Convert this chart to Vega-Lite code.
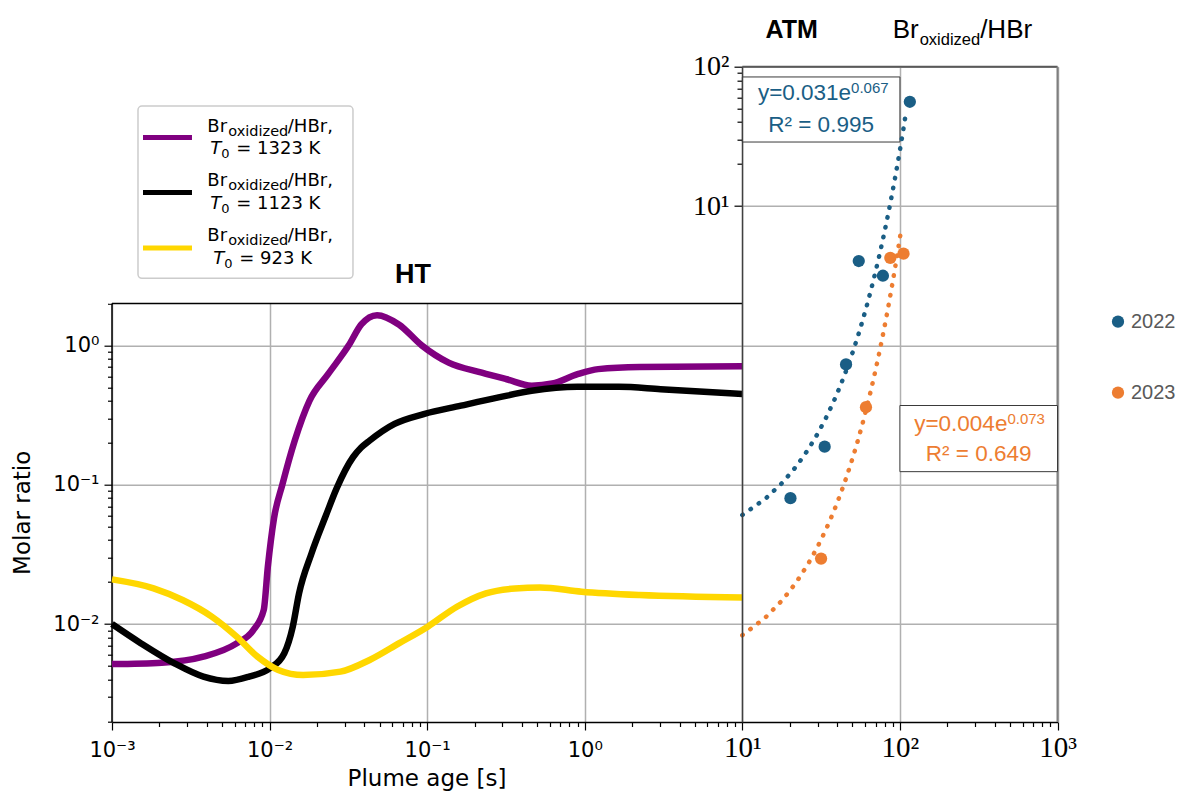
{
  "$schema": "https://vega.github.io/schema/vega-lite/v6.json",
  "width": 945.5,
  "height": 655.3,
  "autosize": {"type": "none"},
  "padding": {"left": 112, "top": 66.7, "right": 119.5, "bottom": 70},
  "background": "white",
  "config": {"view": {"stroke": null}},
  "datasets": {
    "ht": [
      {"series": "1323 K", "t": 0.001, "ratio": 0.00516},
      {"series": "1323 K", "t": 0.00207, "ratio": 0.00528},
      {"series": "1323 K", "t": 0.0038, "ratio": 0.00583},
      {"series": "1323 K", "t": 0.00618, "ratio": 0.00726},
      {"series": "1323 K", "t": 0.00789, "ratio": 0.00906},
      {"series": "1323 K", "t": 0.00918, "ratio": 0.0126},
      {"series": "1323 K", "t": 0.00975, "ratio": 0.0258},
      {"series": "1323 K", "t": 0.01067, "ratio": 0.0575},
      {"series": "1323 K", "t": 0.01205, "ratio": 0.1},
      {"series": "1323 K", "t": 0.01445, "ratio": 0.2075},
      {"series": "1323 K", "t": 0.0179, "ratio": 0.4},
      {"series": "1323 K", "t": 0.0235, "ratio": 0.621},
      {"series": "1323 K", "t": 0.0318, "ratio": 1.0},
      {"series": "1323 K", "t": 0.0382, "ratio": 1.413},
      {"series": "1323 K", "t": 0.0481, "ratio": 1.648},
      {"series": "1323 K", "t": 0.0661, "ratio": 1.413},
      {"series": "1323 K", "t": 0.0923, "ratio": 1.0},
      {"series": "1323 K", "t": 0.1368, "ratio": 0.752},
      {"series": "1323 K", "t": 0.2223, "ratio": 0.638},
      {"series": "1323 K", "t": 0.32, "ratio": 0.571},
      {"series": "1323 K", "t": 0.461, "ratio": 0.513},
      {"series": "1323 K", "t": 0.624, "ratio": 0.532},
      {"series": "1323 K", "t": 0.9, "ratio": 0.621},
      {"series": "1323 K", "t": 1.216, "ratio": 0.675},
      {"series": "1323 K", "t": 2.234, "ratio": 0.7},
      {"series": "1323 K", "t": 10, "ratio": 0.708},
      {"series": "1123 K", "t": 0.001, "ratio": 0.01},
      {"series": "1123 K", "t": 0.00153, "ratio": 0.00726},
      {"series": "1123 K", "t": 0.00249, "ratio": 0.00522},
      {"series": "1123 K", "t": 0.0038, "ratio": 0.00419},
      {"series": "1123 K", "t": 0.00547, "ratio": 0.0039},
      {"series": "1123 K", "t": 0.00741, "ratio": 0.00419},
      {"series": "1123 K", "t": 0.01005, "ratio": 0.00481},
      {"series": "1123 K", "t": 0.0124, "ratio": 0.00617},
      {"series": "1123 K", "t": 0.01403, "ratio": 0.00957},
      {"series": "1123 K", "t": 0.01538, "ratio": 0.0166},
      {"series": "1123 K", "t": 0.01845, "ratio": 0.0321},
      {"series": "1123 K", "t": 0.0228, "ratio": 0.0603},
      {"series": "1123 K", "t": 0.02655, "ratio": 0.0933},
      {"series": "1123 K", "t": 0.0339, "ratio": 0.158},
      {"series": "1123 K", "t": 0.038, "ratio": 0.184},
      {"series": "1123 K", "t": 0.0432, "ratio": 0.2075},
      {"series": "1123 K", "t": 0.0621, "ratio": 0.273},
      {"series": "1123 K", "t": 0.0951, "ratio": 0.321},
      {"series": "1123 K", "t": 0.164, "ratio": 0.369},
      {"series": "1123 K", "t": 0.284, "ratio": 0.423},
      {"series": "1123 K", "t": 0.46, "ratio": 0.472},
      {"series": "1123 K", "t": 0.9, "ratio": 0.504},
      {"series": "1123 K", "t": 1.648, "ratio": 0.504},
      {"series": "1123 K", "t": 3.03, "ratio": 0.485},
      {"series": "1123 K", "t": 10, "ratio": 0.447},
      {"series": "923 K", "t": 0.001, "ratio": 0.0209},
      {"series": "923 K", "t": 0.001837, "ratio": 0.01803},
      {"series": "923 K", "t": 0.002805, "ratio": 0.01486},
      {"series": "923 K", "t": 0.004295, "ratio": 0.0113},
      {"series": "923 K", "t": 0.00618, "ratio": 0.00811},
      {"series": "923 K", "t": 0.00838, "ratio": 0.00583},
      {"series": "923 K", "t": 0.01135, "ratio": 0.00468},
      {"series": "923 K", "t": 0.01633, "ratio": 0.0043},
      {"series": "923 K", "t": 0.02818, "ratio": 0.00455},
      {"series": "923 K", "t": 0.04315, "ratio": 0.00552},
      {"series": "923 K", "t": 0.0661, "ratio": 0.00726},
      {"series": "923 K", "t": 0.1009, "ratio": 0.00957},
      {"series": "923 K", "t": 0.1545, "ratio": 0.0133},
      {"series": "923 K", "t": 0.236, "ratio": 0.0166},
      {"series": "923 K", "t": 0.3614, "ratio": 0.018},
      {"series": "923 K", "t": 0.52, "ratio": 0.0183},
      {"series": "923 K", "t": 0.955, "ratio": 0.01706},
      {"series": "923 K", "t": 2.234, "ratio": 0.01614},
      {"series": "923 K", "t": 10, "ratio": 0.01552}
    ],
    "atm": [
      {"year": "2022", "age": 20.2, "ratio": 0.08},
      {"year": "2022", "age": 33.3, "ratio": 0.1875},
      {"year": "2022", "age": 45.5, "ratio": 0.73},
      {"year": "2022", "age": 54.8, "ratio": 4.03},
      {"year": "2022", "age": 78, "ratio": 3.16},
      {"year": "2022", "age": 115.6, "ratio": 56},
      {"year": "2023", "age": 31.6, "ratio": 0.0295},
      {"year": "2023", "age": 60.9, "ratio": 0.36},
      {"year": "2023", "age": 86.9, "ratio": 4.24},
      {"year": "2023", "age": 105.4, "ratio": 4.55}
    ],
    "trend": [
      {"year": "2022", "age": 10, "ratio": 0.06058},
      {"year": "2022", "age": 14, "ratio": 0.0792},
      {"year": "2022", "age": 18, "ratio": 0.10354},
      {"year": "2022", "age": 22, "ratio": 0.13537},
      {"year": "2022", "age": 26, "ratio": 0.17697},
      {"year": "2022", "age": 30, "ratio": 0.23136},
      {"year": "2022", "age": 34, "ratio": 0.30247},
      {"year": "2022", "age": 38, "ratio": 0.39543},
      {"year": "2022", "age": 42, "ratio": 0.51696},
      {"year": "2022", "age": 46, "ratio": 0.67584},
      {"year": "2022", "age": 50, "ratio": 0.88358},
      {"year": "2022", "age": 54, "ratio": 1.1551},
      {"year": "2022", "age": 58, "ratio": 1.5101},
      {"year": "2022", "age": 62, "ratio": 1.9742},
      {"year": "2022", "age": 66, "ratio": 2.581},
      {"year": "2022", "age": 70, "ratio": 3.3743},
      {"year": "2022", "age": 74, "ratio": 4.4113},
      {"year": "2022", "age": 78, "ratio": 5.767},
      {"year": "2022", "age": 82, "ratio": 7.5395},
      {"year": "2022", "age": 86, "ratio": 9.8567},
      {"year": "2022", "age": 90, "ratio": 12.887},
      {"year": "2022", "age": 94, "ratio": 16.846},
      {"year": "2022", "age": 98, "ratio": 22.026},
      {"year": "2022", "age": 102, "ratio": 28.793},
      {"year": "2022", "age": 106, "ratio": 37.643},
      {"year": "2022", "age": 110, "ratio": 49.213},
      {"year": "2023", "age": 10, "ratio": 0.0083},
      {"year": "2023", "age": 14, "ratio": 0.011115},
      {"year": "2023", "age": 18, "ratio": 0.014884},
      {"year": "2023", "age": 22, "ratio": 0.019932},
      {"year": "2023", "age": 26, "ratio": 0.02669},
      {"year": "2023", "age": 30, "ratio": 0.035741},
      {"year": "2023", "age": 34, "ratio": 0.04786},
      {"year": "2023", "age": 38, "ratio": 0.064092},
      {"year": "2023", "age": 42, "ratio": 0.085824},
      {"year": "2023", "age": 46, "ratio": 0.11493},
      {"year": "2023", "age": 50, "ratio": 0.1539},
      {"year": "2023", "age": 54, "ratio": 0.20609},
      {"year": "2023", "age": 58, "ratio": 0.27596},
      {"year": "2023", "age": 62, "ratio": 0.36956},
      {"year": "2023", "age": 66, "ratio": 0.49488},
      {"year": "2023", "age": 70, "ratio": 0.66268},
      {"year": "2023", "age": 74, "ratio": 0.8874},
      {"year": "2023", "age": 78, "ratio": 1.1883},
      {"year": "2023", "age": 82, "ratio": 1.5913},
      {"year": "2023", "age": 86, "ratio": 2.1308},
      {"year": "2023", "age": 90, "ratio": 2.8536},
      {"year": "2023", "age": 94, "ratio": 3.8212},
      {"year": "2023", "age": 98, "ratio": 5.1168},
      {"year": "2023", "age": 101, "ratio": 6.369}
    ]
  },
  "resolve": {"axis": {"x": "independent", "y": "independent"}, "scale": {"color": "independent"}},
  "layer": [
    {
      "data": {"values": [{}]},
      "mark": {"type": "rect", "fill": "white"},
      "encoding": {
        "x": {"datum": 0.00095, "type": "quantitative", "scale": {"type": "log", "domain": [0.001, 1000], "nice": false},
          "axis": {
            "orient": "bottom",
            "values": [0.001,0.002,0.003,0.004,0.005,0.006,0.007,0.008,0.009,0.01,0.02,0.03,0.04,0.05,0.06,0.07,0.08,0.09,0.1,0.2,0.3,0.4,0.5,0.6,0.7,0.8,0.9,1,2,3,4,5,6,7,8,9,10,20,30,40,50,60,70,80,90,100,200,300,400,500,600,700,800,900,1000],
            "labelExpr": "abs(log(datum.value)/LN10 - round(log(datum.value)/LN10)) > 0.001 ? '' : round(log(datum.value)/LN10) == -3 ? '10⁻³' : round(log(datum.value)/LN10) == -2 ? '10⁻²' : round(log(datum.value)/LN10) == -1 ? '10⁻¹' : round(log(datum.value)/LN10) == 0 ? '10⁰' : round(log(datum.value)/LN10) == 1 ? '10¹' : round(log(datum.value)/LN10) == 2 ? '10²' : '10³'",
            "grid": true,
            "gridColor": "#b0b0b0",
            "gridWidth": 1.5,
            "gridOpacity": {"condition": {"test": "abs(log(datum.value)/LN10 - round(log(datum.value)/LN10)) < 0.001", "value": 1}, "value": 0},
            "tickColor": "#000000",
            "tickWidth": 1.2,
            "tickSize": {"condition": {"test": "abs(log(datum.value)/LN10 - round(log(datum.value)/LN10)) < 0.001", "value": 8}, "value": 4.5},
            "domainColor": "#000000",
            "domainWidth": 1.5,
            "labelFont": {"condition": {"test": "datum.value >= 9", "value": "Liberation Serif"}, "value": "DejaVu Sans"},
            "labelFontSize": {"condition": {"test": "datum.value >= 9", "value": 29}, "value": 21},
            "labelColor": "#000000",
            "labelBaseline": "alphabetic",
            "labelPadding": 26,
            "labelOverlap": false,
            "labelFlush": false,
            "labelBound": false,
            "title": "Plume age [s]",
            "titleFont": "DejaVu Sans",
            "titleFontSize": 23,
            "titleFontWeight": "normal",
            "titleColor": "#000000",
            "titleX": 314.5,
            "titleY": 63,
            "titleAlign": "center",
            "titleBaseline": "alphabetic"
          }},
        "x2": {"datum": 10},
        "y": {"datum": 2, "type": "quantitative", "scale": {"type": "log", "domain": [0.00198, 100], "nice": false},
          "axis": {"orient": "left", "values": [0.01, 0.1, 1, 10, 100], "grid": true, "gridColor": "#b0b0b0", "gridWidth": 1.5, "ticks": false, "labels": false, "domain": false, "title": null}},
        "y2": {"datum": 110}
      }
    },
    {
      "data": {"values": [{}]},
      "mark": {"type": "rule", "stroke": "#000000", "strokeWidth": 1.5},
      "encoding": {
        "x": {"datum": 0.001, "type": "quantitative", "scale": {"type": "log", "domain": [0.001, 1000], "nice": false}, "axis": null},
        "y": {"datum": 0.00198, "type": "quantitative", "scale": {"type": "log", "domain": [0.00198, 100], "nice": false}, "axis": null},
        "y2": {"datum": 2}
      }
    },
    {
      "data": {"values": [{}]},
      "mark": {"type": "rule", "stroke": "#000000", "strokeWidth": 1.5},
      "encoding": {
        "x": {"datum": 0.001, "type": "quantitative", "scale": {"type": "log", "domain": [0.001, 1000], "nice": false}, "axis": null},
        "x2": {"datum": 10},
        "y": {"datum": 2, "type": "quantitative", "scale": {"type": "log", "domain": [0.00198, 100], "nice": false}, "axis": null}
      }
    },
    {
      "data": {"values": [{}]},
      "mark": {"type": "rule", "stroke": "#595959", "strokeWidth": 2},
      "encoding": {
        "x": {"datum": 10, "type": "quantitative", "scale": {"type": "log", "domain": [0.001, 1000], "nice": false}, "axis": null},
        "x2": {"datum": 1000},
        "y": {"datum": 100, "type": "quantitative", "scale": {"type": "log", "domain": [0.00198, 100], "nice": false}, "axis": null}
      }
    },
    {
      "data": {"values": [{}]},
      "mark": {"type": "rule", "stroke": "#7f7f7f", "strokeWidth": 2},
      "encoding": {
        "x": {"datum": 1000, "type": "quantitative", "scale": {"type": "log", "domain": [0.001, 1000], "nice": false}, "axis": null},
        "y": {"datum": 0.00198, "type": "quantitative", "scale": {"type": "log", "domain": [0.00198, 100], "nice": false}, "axis": null},
        "y2": {"datum": 100}
      }
    },
    {
      "data": {"name": "ht"},
      "mark": {"type": "line", "strokeWidth": 6.5, "interpolate": "monotone"},
      "encoding": {
        "x": {"field": "t", "type": "quantitative", "scale": {"type": "log", "domain": [0.001, 1000], "nice": false}, "axis": null},
        "y": {"field": "ratio", "type": "quantitative", "scale": {"type": "log", "domain": [0.00198, 100], "nice": false},
          "axis": {
            "orient": "left",
            "values": [0.002,0.003,0.004,0.005,0.006,0.007,0.008,0.009,0.01,0.02,0.03,0.04,0.05,0.06,0.07,0.08,0.09,0.1,0.2,0.3,0.4,0.5,0.6,0.7,0.8,0.9,1,2],
            "labelExpr": "datum.value == 0.01 ? '10⁻²' : datum.value == 0.1 ? '10⁻¹' : datum.value == 1 ? '10⁰' : ''",
            "grid": false,
            "domain": false,
            "labelFont": "DejaVu Sans",
            "labelFontSize": 21,
            "labelColor": "#000000",
            "labelPadding": 5,
            "labelOverlap": false,
            "labelFlush": false,
            "labelBound": false,
            "tickColor": "#000000",
            "tickWidth": 1.2,
            "tickSize": {"condition": {"test": "datum.value == 0.01 || datum.value == 0.1 || datum.value == 1", "value": 8}, "value": 4.5},
            "title": "Molar ratio",
            "titleFont": "DejaVu Sans",
            "titleFontSize": 23,
            "titleFontWeight": "normal",
            "titleColor": "#000000",
            "titleAngle": 270,
            "titleX": -89.5,
            "titleY": 445.6,
            "titleAlign": "center",
            "titleBaseline": "middle"
          }},
        "color": {"field": "series", "type": "nominal", "scale": {"domain": ["1323 K", "1123 K", "923 K"], "range": ["#800080", "#000000", "#ffd700"]}, "legend": null}
      }
    },
    {
      "data": {"values": [{}]},
      "mark": {"type": "rect", "fill": "white", "stroke": "#3a3a3a", "strokeWidth": 1},
      "encoding": {
        "x": {"datum": 10, "type": "quantitative", "scale": {"type": "log", "domain": [0.001, 1000], "nice": false}, "axis": null},
        "x2": {"datum": 100},
        "y": {"datum": 28.8, "type": "quantitative", "scale": {"type": "log", "domain": [0.00198, 100], "nice": false}, "axis": null},
        "y2": {"datum": 84.4}
      }
    },
    {
      "data": {"values": [{}]},
      "mark": {"type": "text", "text": "y=0.031e", "align": "right", "baseline": "alphabetic", "font": "Liberation Sans", "fontSize": 22.5, "color": "#1a5e85"},
      "encoding": {
        "x": {"datum": 49.0, "type": "quantitative", "scale": {"type": "log", "domain": [0.001, 1000], "nice": false}, "axis": null},
        "y": {"datum": 57.7, "type": "quantitative", "scale": {"type": "log", "domain": [0.00198, 100], "nice": false}, "axis": null}
      }
    },
    {
      "data": {"values": [{}]},
      "mark": {"type": "text", "text": "0.067", "align": "left", "baseline": "alphabetic", "dy": -7, "font": "Liberation Sans", "fontSize": 15, "color": "#1a5e85"},
      "encoding": {
        "x": {"datum": 49.0, "type": "quantitative", "scale": {"type": "log", "domain": [0.001, 1000], "nice": false}, "axis": null},
        "y": {"datum": 57.7, "type": "quantitative", "scale": {"type": "log", "domain": [0.00198, 100], "nice": false}, "axis": null}
      }
    },
    {
      "data": {"values": [{}]},
      "mark": {"type": "text", "text": "R² = 0.995", "align": "center", "baseline": "alphabetic", "font": "Liberation Sans", "fontSize": 22.5, "color": "#1a5e85"},
      "encoding": {
        "x": {"datum": 31.6, "type": "quantitative", "scale": {"type": "log", "domain": [0.001, 1000], "nice": false}, "axis": null},
        "y": {"datum": 34.1, "type": "quantitative", "scale": {"type": "log", "domain": [0.00198, 100], "nice": false}, "axis": null}
      }
    },
    {
      "data": {"values": [{}]},
      "mark": {"type": "rect", "fill": "white", "stroke": "#3a3a3a", "strokeWidth": 1},
      "encoding": {
        "x": {"datum": 100, "type": "quantitative", "scale": {"type": "log", "domain": [0.001, 1000], "nice": false}, "axis": null},
        "x2": {"datum": 1000},
        "y": {"datum": 0.124, "type": "quantitative", "scale": {"type": "log", "domain": [0.00198, 100], "nice": false}, "axis": null},
        "y2": {"datum": 0.37}
      }
    },
    {
      "data": {"values": [{}]},
      "mark": {"type": "text", "text": "y=0.004e", "align": "right", "baseline": "alphabetic", "font": "Liberation Sans", "fontSize": 22.5, "color": "#ed7d31"},
      "encoding": {
        "x": {"datum": 481, "type": "quantitative", "scale": {"type": "log", "domain": [0.001, 1000], "nice": false}, "axis": null},
        "y": {"datum": 0.2443, "type": "quantitative", "scale": {"type": "log", "domain": [0.00198, 100], "nice": false}, "axis": null}
      }
    },
    {
      "data": {"values": [{}]},
      "mark": {"type": "text", "text": "0.073", "align": "left", "baseline": "alphabetic", "dy": -7, "font": "Liberation Sans", "fontSize": 15, "color": "#ed7d31"},
      "encoding": {
        "x": {"datum": 481, "type": "quantitative", "scale": {"type": "log", "domain": [0.001, 1000], "nice": false}, "axis": null},
        "y": {"datum": 0.2443, "type": "quantitative", "scale": {"type": "log", "domain": [0.00198, 100], "nice": false}, "axis": null}
      }
    },
    {
      "data": {"values": [{}]},
      "mark": {"type": "text", "text": "R² = 0.649", "align": "center", "baseline": "alphabetic", "font": "Liberation Sans", "fontSize": 22.5, "color": "#ed7d31"},
      "encoding": {
        "x": {"datum": 316, "type": "quantitative", "scale": {"type": "log", "domain": [0.001, 1000], "nice": false}, "axis": null},
        "y": {"datum": 0.1488, "type": "quantitative", "scale": {"type": "log", "domain": [0.00198, 100], "nice": false}, "axis": null}
      }
    },
    {
      "data": {"name": "trend"},
      "mark": {"type": "line", "strokeWidth": 4.5, "strokeDash": [0.5, 9.5], "strokeCap": "round"},
      "encoding": {
        "x": {"field": "age", "type": "quantitative", "scale": {"type": "log", "domain": [0.001, 1000], "nice": false}, "axis": null},
        "y": {"field": "ratio", "type": "quantitative", "scale": {"type": "log", "domain": [0.00198, 100], "nice": false}, "axis": null},
        "color": {"field": "year", "type": "nominal", "scale": {"domain": ["2022", "2023"], "range": ["#1a5e85", "#ed7d31"]}, "legend": null}
      }
    },
    {
      "data": {"name": "atm"},
      "mark": {"type": "point", "filled": true, "size": 150, "opacity": 1},
      "encoding": {
        "x": {"field": "age", "type": "quantitative", "scale": {"type": "log", "domain": [0.001, 1000], "nice": false}, "axis": null},
        "y": {"field": "ratio", "type": "quantitative", "scale": {"type": "log", "domain": [0.00198, 100], "nice": false},
          "axis": {
            "orient": "left",
            "offset": -630,
            "values": [10, 20, 30, 40, 50, 60, 70, 80, 90, 100],
            "labelExpr": "datum.value == 10 ? '10¹' : datum.value == 100 ? '10²' : ''",
            "grid": false,
            "domain": true,
            "domainColor": "#404040",
            "domainWidth": 1.5,
            "labelFont": "Liberation Serif",
            "labelFontSize": 28,
            "labelColor": "#000000",
            "labelPadding": 5,
            "labelOverlap": false,
            "labelFlush": false,
            "labelBound": false,
            "tickColor": "#000000",
            "tickWidth": 1.2,
            "tickSize": {"condition": {"test": "datum.value == 10 || datum.value == 100", "value": 8}, "value": 5},
            "title": null,
            "zindex": 1
          }},
        "color": {"field": "year", "type": "nominal", "scale": {"domain": ["2022", "2023"], "range": ["#1a5e85", "#ed7d31"]},
          "legend": {"orient": "none", "legendX": 996, "legendY": 245, "title": null, "direction": "vertical", "labelFont": "Liberation Sans", "labelFontSize": 20, "labelColor": "#595959", "symbolSize": 150, "symbolType": "circle", "symbolStrokeWidth": 0, "rowPadding": 51, "labelOffset": 3, "padding": 0}}
      }
    },
    {
      "data": {"values": [{}]},
      "mark": {"type": "rect", "fill": "white", "stroke": "#cccccc", "strokeWidth": 1.5, "cornerRadius": 4},
      "encoding": {
        "x": {"datum": 0.001462, "type": "quantitative", "scale": {"type": "log", "domain": [0.001, 1000], "nice": false}, "axis": null},
        "x2": {"datum": 0.03382},
        "y": {"datum": 3.027, "type": "quantitative", "scale": {"type": "log", "domain": [0.00198, 100], "nice": false}, "axis": null},
        "y2": {"datum": 52.2}
      }
    },
    {
      "data": {"values": [{}]},
      "mark": {"type": "rule", "stroke": "#800080", "strokeWidth": 5},
      "encoding": {
        "x": {"datum": 0.001573, "type": "quantitative", "scale": {"type": "log", "domain": [0.001, 1000], "nice": false}, "axis": null},
        "x2": {"datum": 0.003218},
        "y": {"datum": 31.08, "type": "quantitative", "scale": {"type": "log", "domain": [0.00198, 100], "nice": false}, "axis": null}
      }
    },
    {
      "data": {"values": [{}]},
      "mark": {"type": "rule", "stroke": "#000000", "strokeWidth": 5},
      "encoding": {
        "x": {"datum": 0.001573, "type": "quantitative", "scale": {"type": "log", "domain": [0.001, 1000], "nice": false}, "axis": null},
        "x2": {"datum": 0.003218},
        "y": {"datum": 12.5, "type": "quantitative", "scale": {"type": "log", "domain": [0.00198, 100], "nice": false}, "axis": null}
      }
    },
    {
      "data": {"values": [{}]},
      "mark": {"type": "rule", "stroke": "#ffd700", "strokeWidth": 5},
      "encoding": {
        "x": {"datum": 0.001573, "type": "quantitative", "scale": {"type": "log", "domain": [0.001, 1000], "nice": false}, "axis": null},
        "x2": {"datum": 0.003218},
        "y": {"datum": 5.0, "type": "quantitative", "scale": {"type": "log", "domain": [0.00198, 100], "nice": false}, "axis": null}
      }
    },
    {
      "data": {"values": [{}]},
      "mark": {"type": "text", "text": "Br", "align": "left", "baseline": "alphabetic", "font": "DejaVu Sans", "fontSize": 18, "color": "#000000"},
      "encoding": {
        "x": {"datum": 0.004024, "type": "quantitative", "scale": {"type": "log", "domain": [0.001, 1000], "nice": false}, "axis": null},
        "y": {"datum": 34.1, "type": "quantitative", "scale": {"type": "log", "domain": [0.00198, 100], "nice": false}, "axis": null}
      }
    },
    {
      "data": {"values": [{}]},
      "mark": {"type": "text", "text": "oxidized", "align": "left", "baseline": "alphabetic", "dx": 21, "dy": 4, "font": "DejaVu Sans", "fontSize": 14.5, "color": "#000000"},
      "encoding": {
        "x": {"datum": 0.004024, "type": "quantitative", "scale": {"type": "log", "domain": [0.001, 1000], "nice": false}, "axis": null},
        "y": {"datum": 34.1, "type": "quantitative", "scale": {"type": "log", "domain": [0.00198, 100], "nice": false}, "axis": null}
      }
    },
    {
      "data": {"values": [{}]},
      "mark": {"type": "text", "text": "/HBr,", "align": "left", "baseline": "alphabetic", "dx": 80.5, "font": "DejaVu Sans", "fontSize": 18, "color": "#000000"},
      "encoding": {
        "x": {"datum": 0.004024, "type": "quantitative", "scale": {"type": "log", "domain": [0.001, 1000], "nice": false}, "axis": null},
        "y": {"datum": 34.1, "type": "quantitative", "scale": {"type": "log", "domain": [0.00198, 100], "nice": false}, "axis": null}
      }
    },
    {
      "data": {"values": [{}]},
      "mark": {"type": "text", "text": "T", "align": "left", "baseline": "alphabetic", "dx": 3, "font": "DejaVu Sans", "fontStyle": "italic", "fontSize": 18, "color": "#000000"},
      "encoding": {
        "x": {"datum": 0.004024, "type": "quantitative", "scale": {"type": "log", "domain": [0.001, 1000], "nice": false}, "axis": null},
        "y": {"datum": 23.45, "type": "quantitative", "scale": {"type": "log", "domain": [0.00198, 100], "nice": false}, "axis": null}
      }
    },
    {
      "data": {"values": [{}]},
      "mark": {"type": "text", "text": "0", "align": "left", "baseline": "alphabetic", "dx": 14, "dy": 4, "font": "DejaVu Sans", "fontSize": 13, "color": "#000000"},
      "encoding": {
        "x": {"datum": 0.004024, "type": "quantitative", "scale": {"type": "log", "domain": [0.001, 1000], "nice": false}, "axis": null},
        "y": {"datum": 23.45, "type": "quantitative", "scale": {"type": "log", "domain": [0.00198, 100], "nice": false}, "axis": null}
      }
    },
    {
      "data": {"values": [{}]},
      "mark": {"type": "text", "text": "= 1323 K", "align": "left", "baseline": "alphabetic", "dx": 29, "font": "DejaVu Sans", "fontSize": 18, "color": "#000000"},
      "encoding": {
        "x": {"datum": 0.004024, "type": "quantitative", "scale": {"type": "log", "domain": [0.001, 1000], "nice": false}, "axis": null},
        "y": {"datum": 23.45, "type": "quantitative", "scale": {"type": "log", "domain": [0.00198, 100], "nice": false}, "axis": null}
      }
    },
    {
      "data": {"values": [{}]},
      "mark": {"type": "text", "text": "Br", "align": "left", "baseline": "alphabetic", "font": "DejaVu Sans", "fontSize": 18, "color": "#000000"},
      "encoding": {
        "x": {"datum": 0.004024, "type": "quantitative", "scale": {"type": "log", "domain": [0.001, 1000], "nice": false}, "axis": null},
        "y": {"datum": 13.88, "type": "quantitative", "scale": {"type": "log", "domain": [0.00198, 100], "nice": false}, "axis": null}
      }
    },
    {
      "data": {"values": [{}]},
      "mark": {"type": "text", "text": "oxidized", "align": "left", "baseline": "alphabetic", "dx": 21, "dy": 4, "font": "DejaVu Sans", "fontSize": 14.5, "color": "#000000"},
      "encoding": {
        "x": {"datum": 0.004024, "type": "quantitative", "scale": {"type": "log", "domain": [0.001, 1000], "nice": false}, "axis": null},
        "y": {"datum": 13.88, "type": "quantitative", "scale": {"type": "log", "domain": [0.00198, 100], "nice": false}, "axis": null}
      }
    },
    {
      "data": {"values": [{}]},
      "mark": {"type": "text", "text": "/HBr,", "align": "left", "baseline": "alphabetic", "dx": 80.5, "font": "DejaVu Sans", "fontSize": 18, "color": "#000000"},
      "encoding": {
        "x": {"datum": 0.004024, "type": "quantitative", "scale": {"type": "log", "domain": [0.001, 1000], "nice": false}, "axis": null},
        "y": {"datum": 13.88, "type": "quantitative", "scale": {"type": "log", "domain": [0.00198, 100], "nice": false}, "axis": null}
      }
    },
    {
      "data": {"values": [{}]},
      "mark": {"type": "text", "text": "T", "align": "left", "baseline": "alphabetic", "dx": 3, "font": "DejaVu Sans", "fontStyle": "italic", "fontSize": 18, "color": "#000000"},
      "encoding": {
        "x": {"datum": 0.004024, "type": "quantitative", "scale": {"type": "log", "domain": [0.001, 1000], "nice": false}, "axis": null},
        "y": {"datum": 9.49, "type": "quantitative", "scale": {"type": "log", "domain": [0.00198, 100], "nice": false}, "axis": null}
      }
    },
    {
      "data": {"values": [{}]},
      "mark": {"type": "text", "text": "0", "align": "left", "baseline": "alphabetic", "dx": 14, "dy": 4, "font": "DejaVu Sans", "fontSize": 13, "color": "#000000"},
      "encoding": {
        "x": {"datum": 0.004024, "type": "quantitative", "scale": {"type": "log", "domain": [0.001, 1000], "nice": false}, "axis": null},
        "y": {"datum": 9.49, "type": "quantitative", "scale": {"type": "log", "domain": [0.00198, 100], "nice": false}, "axis": null}
      }
    },
    {
      "data": {"values": [{}]},
      "mark": {"type": "text", "text": "= 1123 K", "align": "left", "baseline": "alphabetic", "dx": 29, "font": "DejaVu Sans", "fontSize": 18, "color": "#000000"},
      "encoding": {
        "x": {"datum": 0.004024, "type": "quantitative", "scale": {"type": "log", "domain": [0.001, 1000], "nice": false}, "axis": null},
        "y": {"datum": 9.49, "type": "quantitative", "scale": {"type": "log", "domain": [0.00198, 100], "nice": false}, "axis": null}
      }
    },
    {
      "data": {"values": [{}]},
      "mark": {"type": "text", "text": "Br", "align": "left", "baseline": "alphabetic", "font": "DejaVu Sans", "fontSize": 18, "color": "#000000"},
      "encoding": {
        "x": {"datum": 0.004024, "type": "quantitative", "scale": {"type": "log", "domain": [0.001, 1000], "nice": false}, "axis": null},
        "y": {"datum": 5.58, "type": "quantitative", "scale": {"type": "log", "domain": [0.00198, 100], "nice": false}, "axis": null}
      }
    },
    {
      "data": {"values": [{}]},
      "mark": {"type": "text", "text": "oxidized", "align": "left", "baseline": "alphabetic", "dx": 21, "dy": 4, "font": "DejaVu Sans", "fontSize": 14.5, "color": "#000000"},
      "encoding": {
        "x": {"datum": 0.004024, "type": "quantitative", "scale": {"type": "log", "domain": [0.001, 1000], "nice": false}, "axis": null},
        "y": {"datum": 5.58, "type": "quantitative", "scale": {"type": "log", "domain": [0.00198, 100], "nice": false}, "axis": null}
      }
    },
    {
      "data": {"values": [{}]},
      "mark": {"type": "text", "text": "/HBr,", "align": "left", "baseline": "alphabetic", "dx": 80.5, "font": "DejaVu Sans", "fontSize": 18, "color": "#000000"},
      "encoding": {
        "x": {"datum": 0.004024, "type": "quantitative", "scale": {"type": "log", "domain": [0.001, 1000], "nice": false}, "axis": null},
        "y": {"datum": 5.58, "type": "quantitative", "scale": {"type": "log", "domain": [0.00198, 100], "nice": false}, "axis": null}
      }
    },
    {
      "data": {"values": [{}]},
      "mark": {"type": "text", "text": "T", "align": "left", "baseline": "alphabetic", "dx": 6, "font": "DejaVu Sans", "fontStyle": "italic", "fontSize": 18, "color": "#000000"},
      "encoding": {
        "x": {"datum": 0.004024, "type": "quantitative", "scale": {"type": "log", "domain": [0.001, 1000], "nice": false}, "axis": null},
        "y": {"datum": 3.815, "type": "quantitative", "scale": {"type": "log", "domain": [0.00198, 100], "nice": false}, "axis": null}
      }
    },
    {
      "data": {"values": [{}]},
      "mark": {"type": "text", "text": "0", "align": "left", "baseline": "alphabetic", "dx": 17, "dy": 4, "font": "DejaVu Sans", "fontSize": 13, "color": "#000000"},
      "encoding": {
        "x": {"datum": 0.004024, "type": "quantitative", "scale": {"type": "log", "domain": [0.001, 1000], "nice": false}, "axis": null},
        "y": {"datum": 3.815, "type": "quantitative", "scale": {"type": "log", "domain": [0.00198, 100], "nice": false}, "axis": null}
      }
    },
    {
      "data": {"values": [{}]},
      "mark": {"type": "text", "text": "= 923 K", "align": "left", "baseline": "alphabetic", "dx": 32, "font": "DejaVu Sans", "fontSize": 18, "color": "#000000"},
      "encoding": {
        "x": {"datum": 0.004024, "type": "quantitative", "scale": {"type": "log", "domain": [0.001, 1000], "nice": false}, "axis": null},
        "y": {"datum": 3.815, "type": "quantitative", "scale": {"type": "log", "domain": [0.00198, 100], "nice": false}, "axis": null}
      }
    },
    {
      "data": {"values": [{}]},
      "mark": {"type": "text", "text": "HT", "align": "center", "baseline": "alphabetic", "font": "Liberation Sans", "fontWeight": "bold", "fontSize": 27, "color": "#000000"},
      "encoding": {
        "x": {"datum": 0.08128, "type": "quantitative", "scale": {"type": "log", "domain": [0.001, 1000], "nice": false}, "axis": null},
        "y": {"datum": 2.818, "type": "quantitative", "scale": {"type": "log", "domain": [0.00198, 100], "nice": false}, "axis": null}
      }
    },
    {
      "data": {"values": [{}]},
      "mark": {"type": "text", "text": "ATM", "align": "center", "baseline": "alphabetic", "font": "Liberation Sans", "fontWeight": "bold", "fontSize": 25, "color": "#000000"},
      "encoding": {
        "x": {"datum": 20.57, "type": "quantitative", "scale": {"type": "log", "domain": [0.001, 1000], "nice": false}, "axis": null},
        "y": {"datum": 160.1, "type": "quantitative", "scale": {"type": "log", "domain": [0.00198, 100], "nice": false}, "axis": null}
      }
    },
    {
      "data": {"values": [{}]},
      "mark": {"type": "text", "text": "Br", "align": "left", "baseline": "alphabetic", "font": "Liberation Sans", "fontSize": 26, "color": "#000000"},
      "encoding": {
        "x": {"datum": 89.9, "type": "quantitative", "scale": {"type": "log", "domain": [0.001, 1000], "nice": false}, "axis": null},
        "y": {"datum": 160.1, "type": "quantitative", "scale": {"type": "log", "domain": [0.00198, 100], "nice": false}, "axis": null}
      }
    },
    {
      "data": {"values": [{}]},
      "mark": {"type": "text", "text": "oxidized", "align": "left", "baseline": "alphabetic", "dx": 27, "dy": 7, "font": "Liberation Sans", "fontSize": 16.5, "color": "#000000"},
      "encoding": {
        "x": {"datum": 89.9, "type": "quantitative", "scale": {"type": "log", "domain": [0.001, 1000], "nice": false}, "axis": null},
        "y": {"datum": 160.1, "type": "quantitative", "scale": {"type": "log", "domain": [0.00198, 100], "nice": false}, "axis": null}
      }
    },
    {
      "data": {"values": [{}]},
      "mark": {"type": "text", "text": "/HBr", "align": "left", "baseline": "alphabetic", "dx": 87.5, "font": "Liberation Sans", "fontSize": 26, "color": "#000000"},
      "encoding": {
        "x": {"datum": 89.9, "type": "quantitative", "scale": {"type": "log", "domain": [0.001, 1000], "nice": false}, "axis": null},
        "y": {"datum": 160.1, "type": "quantitative", "scale": {"type": "log", "domain": [0.00198, 100], "nice": false}, "axis": null}
      }
    }
  ]
}
